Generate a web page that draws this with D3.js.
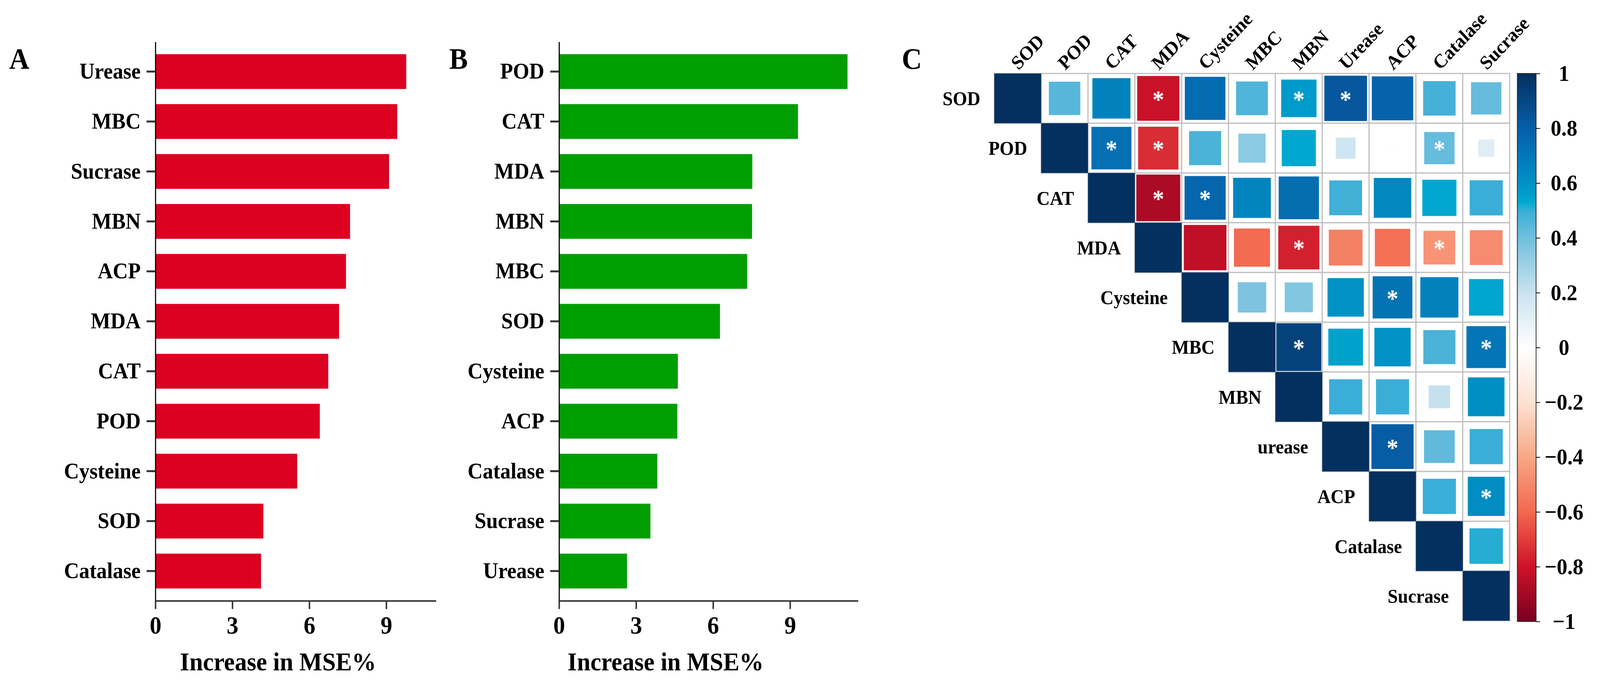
<!DOCTYPE html>
<html>
<head>
<meta charset="utf-8">
<script src="https://cdn.jsdelivr.net/npm/d3@7"></script>
<style>
  html, body { margin: 0; padding: 0; background: #fff; overflow: hidden; }
  svg { display: block; width: 100vw; height: 100vh; }
  text { font-family: "Liberation Serif", "Times New Roman", serif; font-weight: bold; }
</style>
</head>
<body>
<svg id="fig" viewBox="0 0 4356 1755" preserveAspectRatio="none"></svg>
<script>
// ---- data ----
var namesA = ["Urease", "MBC", "Sucrase", "MBN", "ACP", "MDA", "CAT", "POD", "Cysteine", "SOD", "Catalase"];
var valuesA = [9.78, 9.43, 9.11, 7.59, 7.43, 7.16, 6.74, 6.41, 5.53, 4.21, 4.12];

var namesB = ["POD", "CAT", "MDA", "MBN", "MBC", "SOD", "Cysteine", "ACP", "Catalase", "Sucrase", "Urease"];
var valuesB = [11.24, 9.31, 7.53, 7.52, 7.33, 6.27, 4.63, 4.61, 3.83, 3.56, 2.65];

var xTicks = [0, 3, 6, 9];

// correlation panel
var vars = ["SOD", "POD", "CAT", "MDA", "Cysteine", "MBC", "MBN", "Urease", "ACP", "Catalase", "Sucrase"];
var rowNames = ["SOD", "POD", "CAT", "MDA", "Cysteine", "MBC", "MBN", "urease", "ACP", "Catalase", "Sucrase"];
// upper triangle, row by row (values right of the diagonal)
var upper = [
  [0.45, 0.66, -0.81, 0.75, 0.46, 0.57, 0.83, 0.78, 0.48, 0.42],
  [0.73, -0.74, 0.47, 0.34, 0.53, 0.18, 0.01, 0.42, 0.12],
  [-0.88, 0.77, 0.65, 0.74, 0.49, 0.64, 0.53, 0.50],
  [-0.83, -0.59, -0.77, -0.52, -0.57, -0.46, -0.49],
  [0.37, 0.36, 0.60, 0.72, 0.66, 0.54],
  [0.92, 0.55, 0.60, 0.47, 0.71],
  [0.50, 0.50, 0.21, 0.61],
  [0.81, 0.43, 0.50],
  [0.50, 0.62],
  [0.51]
];
// significant pairs (row, column)
var starred = [
  ["SOD", "MDA"], ["SOD", "MBN"], ["SOD", "Urease"],
  ["POD", "CAT"], ["POD", "MDA"], ["POD", "Catalase"],
  ["CAT", "MDA"], ["CAT", "Cysteine"],
  ["MDA", "MBN"], ["MDA", "Catalase"],
  ["Cysteine", "ACP"],
  ["MBC", "MBN"], ["MBC", "Sucrase"],
  ["Urease", "ACP"],
  ["ACP", "Sucrase"]
];
var legendTicks = [-1, -0.8, -0.6, -0.4, -0.2, 0, 0.2, 0.4, 0.6, 0.8, 1];
var paletteStops = [-1, -0.8, -0.6, -0.4, -0.2, 0, 0.2, 0.4, 0.5, 0.53, 0.6, 0.8, 1];
var paletteColors = ["#780020", "#cd1328", "#f3684f", "#f8a785", "#fde1d2", "#ffffff",
                     "#c9e3ef", "#71bfde", "#3aaed6", "#00a8cf", "#0092c6", "#075ea8", "#03305f"];

var svg = d3.select("#fig");
svg.append("rect").attr("width", 4356).attr("height", 1755).attr("fill", "#fff");

function barPanel(names, values, color, x0, xEnd, xMax, titleX) {
  var g = svg.append("g");
  var y = d3.scaleBand().domain(names).range([107, 1537]).paddingInner(0.303).paddingOuter(0.247);
  var x = d3.scaleLinear().domain([0, xMax]).range([x0, xEnd]);

  g.selectAll("rect.bar").data(names).enter().append("rect")
    .attr("class", "bar")
    .attr("x", x(0))
    .attr("y", function(d){ return y(d); })
    .attr("width", function(d, i){ return x(values[i]) - x(0); })
    .attr("height", y.bandwidth())
    .attr("fill", color);

  var ya = g.append("g").attr("transform", "translate(" + x0 + ",0)")
    .call(d3.axisLeft(y).tickSize(24).tickSizeOuter(0).tickPadding(16));
  ya.select(".domain").attr("stroke", "#000").attr("stroke-width", 3);
  ya.selectAll(".tick line").attr("stroke", "#333").attr("stroke-width", 5);
  ya.selectAll("text").attr("font-size", 57).attr("fill", "#000");

  var xa = g.append("g").attr("transform", "translate(0,1537)")
    .call(d3.axisBottom(x).tickValues(xTicks).tickSize(21).tickSizeOuter(0).tickPadding(18));
  xa.select(".domain").attr("stroke", "#333").attr("stroke-width", 4);
  xa.selectAll(".tick line").attr("stroke", "#333").attr("stroke-width", 4);
  xa.selectAll("text").attr("font-size", 64).attr("fill", "#000");

  g.append("text").attr("x", titleX).attr("y", 1715).attr("text-anchor", "middle")
    .attr("font-size", 66).text("Increase in MSE%");
}

barPanel(namesA, valuesA, "#dc0021", 423, 1187, 10.94, 757);
barPanel(namesB, valuesB, "#009e00", 1522, 2336, 11.65, 1812);

// panel letters
[["A", 25], ["B", 1223], ["C", 2455]].forEach(function(p){
  svg.append("text").attr("x", p[1]).attr("y", 176).attr("font-size", 76).text(p[0]);
});

// ---- correlation matrix ----
var color = d3.scaleLinear().domain(paletteStops).range(paletteColors);
var cx = d3.scaleBand().domain(vars).range([2707, 4110]);
var cy = d3.scaleBand().domain(vars).range([188, 1588]);
var cw = cx.bandwidth(), ch = cy.bandwidth();

var cells = [];
vars.forEach(function(r, i){
  cells.push({row: r, col: r, v: 1});
  upper[i] && upper[i].forEach(function(v, k){
    cells.push({row: r, col: vars[i + 1 + k], v: v});
  });
});
var starKey = {};
starred.forEach(function(s){ starKey[s[0] + "|" + s[1]] = true; });

var hg = svg.append("g");
hg.selectAll("rect.cell").data(cells).enter().append("rect")
  .attr("class", "cell")
  .attr("x", function(d){ return cx(d.col); })
  .attr("y", function(d){ return cy(d.row); })
  .attr("width", cw).attr("height", ch)
  .attr("fill", "#fff").attr("stroke", "#bfbfbf").attr("stroke-width", 3);

hg.selectAll("rect.sq").data(cells).enter().append("rect")
  .attr("class", "sq")
  .attr("x", function(d){ var s = Math.sqrt(Math.abs(d.v)); return cx(d.col) + cw * (1 - s) / 2; })
  .attr("y", function(d){ var s = Math.sqrt(Math.abs(d.v)); return cy(d.row) + ch * (1 - s) / 2; })
  .attr("width", function(d){ return cw * Math.sqrt(Math.abs(d.v)); })
  .attr("height", function(d){ return ch * Math.sqrt(Math.abs(d.v)); })
  .attr("fill", function(d){ return color(d.v); });

hg.selectAll("text.star").data(cells.filter(function(d){ return starKey[d.row + "|" + d.col]; }))
  .enter().append("text")
  .attr("class", "star")
  .attr("x", function(d){ return cx(d.col) + cw / 2; })
  .attr("y", function(d){ return cy(d.row) + ch / 2 + 24; })
  .attr("text-anchor", "middle").attr("font-size", 64).attr("fill", "#fff")
  .text("*");

// column labels (rotated)
hg.selectAll("text.col").data(vars).enter().append("text")
  .attr("class", "col")
  .attr("transform", function(d){ return "translate(" + (cx(d) + cw / 2 + 2) + ",181) rotate(-45)"; })
  .attr("font-size", 50).text(function(d){ return d; });

// row labels next to diagonal
hg.selectAll("text.row").data(vars).enter().append("text")
  .attr("class", "row")
  .attr("x", function(d){ return cx(d) - 38; })
  .attr("y", function(d){ return cy(d) + ch / 2; })
  .attr("dy", "0.35em").attr("text-anchor", "end").attr("font-size", 50)
  .text(function(d, i){ return rowNames[i]; });

// colour legend
var defs = svg.append("defs");
var grad = defs.append("linearGradient").attr("id", "cbar")
  .attr("x1", 0).attr("y1", 1).attr("x2", 0).attr("y2", 0);
paletteStops.forEach(function(s, i){
  grad.append("stop").attr("offset", (s + 1) / 2).attr("stop-color", paletteColors[i]);
});
var ly = d3.scaleLinear().domain([-1, 1]).range([1590, 188]);
svg.append("rect").attr("x", 4131).attr("y", 188).attr("width", 51).attr("height", 1402)
  .attr("fill", "url(#cbar)").attr("stroke", "#222").attr("stroke-width", 2);
var la = svg.append("g").attr("transform", "translate(4182,0)")
  .call(d3.axisRight(ly).tickValues(legendTicks).tickSize(11).tickSizeOuter(0).tickPadding(65)
    .tickFormat(function(d){ return Math.abs(d) < 1e-9 ? "0" : d3.format("~g")(d); }));
la.select(".domain").remove();
la.selectAll(".tick line").attr("stroke", "#000").attr("stroke-width", 2);
la.selectAll("text").attr("font-size", 58).attr("fill", "#000").attr("text-anchor", "middle");
</script>
</body>
</html>
